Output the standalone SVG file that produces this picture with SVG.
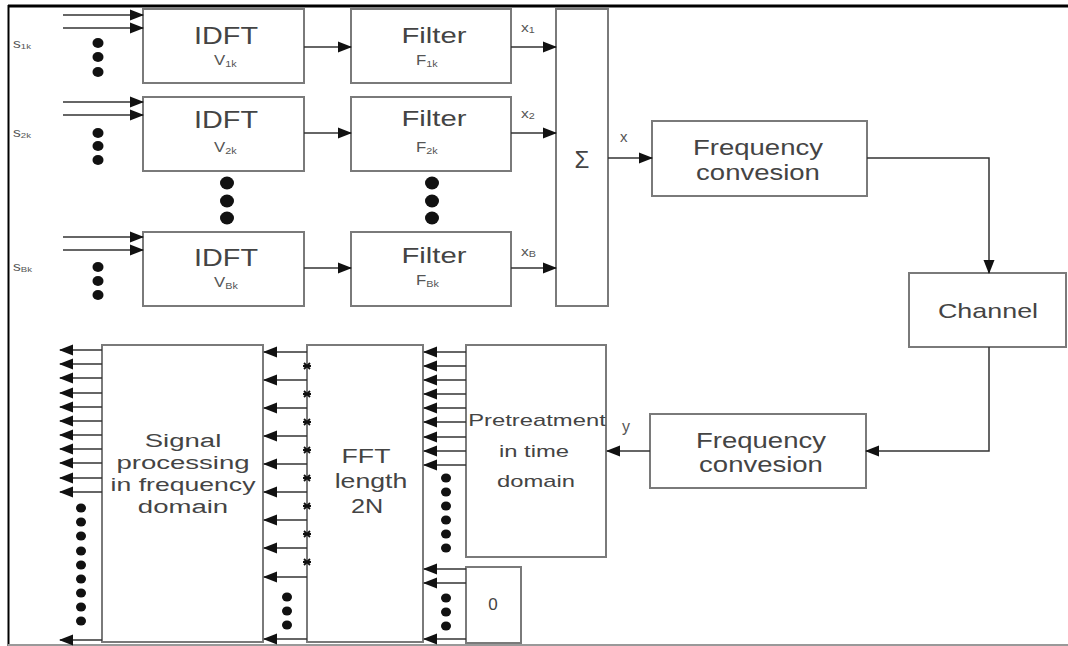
<svg xmlns="http://www.w3.org/2000/svg" width="1068" height="646" viewBox="0 0 1068 646">
<style>
.box{fill:#fff;stroke:#7a7a7a;stroke-width:2}
.ln{fill:none;stroke:#333;stroke-width:1.5}
.t{font-family:"Liberation Sans",Arial,sans-serif;fill:#444;text-anchor:middle}
.s{font-family:"Liberation Sans",Arial,sans-serif;fill:#555}
.dot{fill:#111}
</style>
<defs>
<marker id="ah" viewBox="0 0 14 11" markerUnits="userSpaceOnUse" markerWidth="14" markerHeight="11" refX="13" refY="5.5" orient="auto" overflow="visible">
<path d="M0,0 L14,5.5 L0,11 z" fill="#111"/>
</marker>
<g id="tick"><path d="M-3,-3 L3,3 M-3,3 L3,-3 M-4,0 L4,0" stroke="#111" stroke-width="1.8"/></g>
</defs>
<rect width="1068" height="646" fill="#fff"/>
<g id="frame">
<line x1="8" y1="6" x2="1068" y2="6" stroke="#000" stroke-width="3"/>
<line x1="8.5" y1="5" x2="8.5" y2="646" stroke="#000" stroke-width="2"/>
<line x1="8" y1="645" x2="1068" y2="645" stroke="#999" stroke-width="2"/>
</g>

<g id="idft1"><rect class="box" x="143" y="9" width="161" height="74"/>
<text class="t" font-size="24" transform="translate(226,44) scale(1.2,1)">IDFT</text>
<text class="s" font-size="14" transform="translate(214,65) scale(1.2,1)">V<tspan font-size="9" dy="2">1k</tspan></text></g>
<g id="idft2"><rect class="box" x="143" y="97" width="161" height="74"/>
<text class="t" font-size="24" transform="translate(226,128) scale(1.2,1)">IDFT</text>
<text class="s" font-size="14" transform="translate(214,152) scale(1.2,1)">V<tspan font-size="9" dy="2">2k</tspan></text></g>
<g id="idft3"><rect class="box" x="143" y="232" width="161" height="74"/>
<text class="t" font-size="24" transform="translate(226,266) scale(1.2,1)">IDFT</text>
<text class="s" font-size="14" transform="translate(214,287) scale(1.2,1)">V<tspan font-size="9" dy="2">Bk</tspan></text></g>

<g id="filter1"><rect class="box" x="351" y="9" width="160" height="74"/>
<text class="t" font-size="22" transform="translate(434,43) scale(1.33,1)">Filter</text>
<text class="s" font-size="14" transform="translate(416,65) scale(1.2,1)">F<tspan font-size="9" dy="2">1k</tspan></text></g>
<g id="filter2"><rect class="box" x="351" y="97" width="160" height="74"/>
<text class="t" font-size="22" transform="translate(434,126) scale(1.33,1)">Filter</text>
<text class="s" font-size="14" transform="translate(416,152) scale(1.2,1)">F<tspan font-size="9" dy="2">2k</tspan></text></g>
<g id="filter3"><rect class="box" x="351" y="232" width="160" height="74"/>
<text class="t" font-size="22" transform="translate(434,263) scale(1.33,1)">Filter</text>
<text class="s" font-size="14" transform="translate(416,285) scale(1.2,1)">F<tspan font-size="9" dy="2">Bk</tspan></text></g>

<g id="sum"><rect class="box" x="556" y="9" width="52" height="297"/>
<text class="t" font-size="24" x="582" y="168">Σ</text></g>

<g id="freq1"><rect class="box" x="652" y="121" width="215" height="75"/>
<text class="t" font-size="22" transform="translate(758,155) scale(1.25,1)">Frequency</text>
<text class="t" font-size="22" transform="translate(758,180) scale(1.25,1)">convesion</text></g>

<g id="channel"><rect class="box" x="909" y="273" width="157" height="74"/>
<text class="t" font-size="21" transform="translate(988,318) scale(1.28,1)">Channel</text></g>

<g id="freq2"><rect class="box" x="650" y="414" width="216" height="74"/>
<text class="t" font-size="22" transform="translate(761,448) scale(1.25,1)">Frequency</text>
<text class="t" font-size="22" transform="translate(761,472) scale(1.25,1)">convesion</text></g>

<g id="pretreat"><rect class="box" x="466" y="345" width="140" height="212"/>
<text class="t" font-size="17" transform="translate(537,426) scale(1.4,1)">Pretreatment</text>
<text class="t" font-size="17" transform="translate(534,457) scale(1.4,1)">in time</text>
<text class="t" font-size="17" transform="translate(536,487) scale(1.4,1)">domain</text></g>

<g id="zero"><rect class="box" x="466" y="567" width="55" height="76"/>
<text class="t" font-size="17" x="493" y="610">0</text></g>

<g id="fft"><rect class="box" x="307" y="345" width="116" height="297"/>
<text class="t" font-size="21" transform="translate(366,463) scale(1.27,1)">FFT</text>
<text class="t" font-size="21" transform="translate(371,488) scale(1.27,1)">length</text>
<text class="t" font-size="21" transform="translate(367,513) scale(1.2,1)">2N</text></g>

<g id="sigproc"><rect class="box" x="102" y="345" width="161" height="297"/>
<text class="t" font-size="19" transform="translate(183,447) scale(1.45,1)">Signal</text>
<text class="t" font-size="19" transform="translate(183,469) scale(1.45,1)">processing</text>
<text class="t" font-size="19" transform="translate(183,491) scale(1.4,1)">in frequency</text>
<text class="t" font-size="19" transform="translate(183,513) scale(1.45,1)">domain</text></g>

<g id="labels">
<text class="s" font-size="13" transform="translate(13,48) scale(1.2,1)">s<tspan font-size="8" dy="1">1k</tspan></text>
<text class="s" font-size="13" transform="translate(13,137) scale(1.2,1)">s<tspan font-size="8" dy="1">2k</tspan></text>
<text class="s" font-size="13" transform="translate(13,271) scale(1.2,1)">s<tspan font-size="8" dy="1">Bk</tspan></text>
<text class="s" font-size="13" transform="translate(521,32) scale(1.2,1)">x<tspan font-size="9" dy="1">1</tspan></text>
<text class="s" font-size="13" transform="translate(521,118) scale(1.2,1)">x<tspan font-size="9" dy="1">2</tspan></text>
<text class="s" font-size="13" transform="translate(521,256) scale(1.2,1)">x<tspan font-size="9" dy="1">B</tspan></text>
<text class="s" font-size="15" x="620" y="142">x</text>
<text class="s" font-size="16" x="622" y="432">y</text>
</g>

<g id="dots">
<ellipse class="dot" cx="98" cy="43" rx="5.5" ry="5"/><ellipse class="dot" cx="98" cy="57" rx="5.5" ry="5"/><ellipse class="dot" cx="98" cy="72" rx="5.5" ry="5"/>
<ellipse class="dot" cx="98" cy="133" rx="5.5" ry="5"/><ellipse class="dot" cx="98" cy="146" rx="5.5" ry="5"/><ellipse class="dot" cx="98" cy="160" rx="5.5" ry="5"/>
<ellipse class="dot" cx="98" cy="267" rx="5.5" ry="5"/><ellipse class="dot" cx="98" cy="281" rx="5.5" ry="5"/><ellipse class="dot" cx="98" cy="295" rx="5.5" ry="5"/>
<ellipse class="dot" cx="227" cy="183" rx="7" ry="6.5"/><ellipse class="dot" cx="227" cy="201" rx="7" ry="6.5"/><ellipse class="dot" cx="227" cy="218" rx="7" ry="6.5"/>
<ellipse class="dot" cx="432" cy="183" rx="7" ry="6.5"/><ellipse class="dot" cx="432" cy="201" rx="7" ry="6.5"/><ellipse class="dot" cx="432" cy="218" rx="7" ry="6.5"/>
<ellipse class="dot" cx="81" cy="508" rx="5" ry="4.5"/><ellipse class="dot" cx="81" cy="522" rx="5" ry="4.5"/><ellipse class="dot" cx="81" cy="536" rx="5" ry="4.5"/><ellipse class="dot" cx="81" cy="551" rx="5" ry="4.5"/><ellipse class="dot" cx="81" cy="565" rx="5" ry="4.5"/><ellipse class="dot" cx="81" cy="579" rx="5" ry="4.5"/><ellipse class="dot" cx="81" cy="593" rx="5" ry="4.5"/><ellipse class="dot" cx="81" cy="607" rx="5" ry="4.5"/><ellipse class="dot" cx="81" cy="621" rx="5" ry="4.5"/>
<ellipse class="dot" cx="287" cy="597" rx="5" ry="4.5"/><ellipse class="dot" cx="287" cy="611" rx="5" ry="4.5"/><ellipse class="dot" cx="287" cy="625" rx="5" ry="4.5"/>
<ellipse class="dot" cx="446" cy="478" rx="5" ry="4.5"/><ellipse class="dot" cx="446" cy="492" rx="5" ry="4.5"/><ellipse class="dot" cx="446" cy="506" rx="5" ry="4.5"/><ellipse class="dot" cx="446" cy="520" rx="5" ry="4.5"/><ellipse class="dot" cx="446" cy="534" rx="5" ry="4.5"/><ellipse class="dot" cx="446" cy="548" rx="5" ry="4.5"/>
<ellipse class="dot" cx="446" cy="598" rx="5" ry="4.5"/><ellipse class="dot" cx="446" cy="612" rx="5" ry="4.5"/><ellipse class="dot" cx="446" cy="626" rx="5" ry="4.5"/>
</g>

<g id="connectors" class="ln">
<line x1="63" y1="15" x2="143" y2="15" marker-end="url(#ah)"/><line x1="63" y1="28" x2="143" y2="28" marker-end="url(#ah)"/>
<line x1="63" y1="102" x2="143" y2="102" marker-end="url(#ah)"/><line x1="63" y1="115" x2="143" y2="115" marker-end="url(#ah)"/>
<line x1="63" y1="237" x2="143" y2="237" marker-end="url(#ah)"/><line x1="63" y1="250" x2="143" y2="250" marker-end="url(#ah)"/>
<line x1="304" y1="47" x2="351" y2="47" marker-end="url(#ah)"/><line x1="304" y1="133" x2="351" y2="133" marker-end="url(#ah)"/><line x1="304" y1="268" x2="351" y2="268" marker-end="url(#ah)"/>
<line x1="511" y1="47" x2="556" y2="47" marker-end="url(#ah)"/><line x1="511" y1="133" x2="556" y2="133" marker-end="url(#ah)"/><line x1="511" y1="268" x2="556" y2="268" marker-end="url(#ah)"/>
<line x1="608" y1="158" x2="652" y2="158" marker-end="url(#ah)"/>
<path d="M867,158 H989 V273" marker-end="url(#ah)"/>
<path d="M989,347 V451 H866" marker-end="url(#ah)"/>
<line x1="650" y1="451" x2="607" y2="451" marker-end="url(#ah)"/>
<line x1="466" y1="352" x2="424" y2="352" marker-end="url(#ah)"/><line x1="466" y1="366" x2="424" y2="366" marker-end="url(#ah)"/><line x1="466" y1="380" x2="424" y2="380" marker-end="url(#ah)"/><line x1="466" y1="394" x2="424" y2="394" marker-end="url(#ah)"/><line x1="466" y1="408" x2="424" y2="408" marker-end="url(#ah)"/><line x1="466" y1="422" x2="424" y2="422" marker-end="url(#ah)"/><line x1="466" y1="437" x2="424" y2="437" marker-end="url(#ah)"/><line x1="466" y1="451" x2="424" y2="451" marker-end="url(#ah)"/><line x1="466" y1="465" x2="424" y2="465" marker-end="url(#ah)"/>
<line x1="466" y1="569" x2="424" y2="569" marker-end="url(#ah)"/><line x1="466" y1="583" x2="424" y2="583" marker-end="url(#ah)"/><line x1="466" y1="639" x2="424" y2="639" marker-end="url(#ah)"/>
<line x1="307" y1="352" x2="264" y2="352" marker-end="url(#ah)"/><line x1="307" y1="380" x2="264" y2="380" marker-end="url(#ah)"/><line x1="307" y1="408" x2="264" y2="408" marker-end="url(#ah)"/><line x1="307" y1="436" x2="264" y2="436" marker-end="url(#ah)"/><line x1="307" y1="464" x2="264" y2="464" marker-end="url(#ah)"/><line x1="307" y1="492" x2="264" y2="492" marker-end="url(#ah)"/><line x1="307" y1="520" x2="264" y2="520" marker-end="url(#ah)"/><line x1="307" y1="548" x2="264" y2="548" marker-end="url(#ah)"/><line x1="307" y1="577" x2="264" y2="577" marker-end="url(#ah)"/><line x1="307" y1="639" x2="264" y2="639" marker-end="url(#ah)"/>
<line x1="102" y1="350" x2="60" y2="350" marker-end="url(#ah)"/><line x1="102" y1="364" x2="60" y2="364" marker-end="url(#ah)"/><line x1="102" y1="378" x2="60" y2="378" marker-end="url(#ah)"/><line x1="102" y1="393" x2="60" y2="393" marker-end="url(#ah)"/><line x1="102" y1="407" x2="60" y2="407" marker-end="url(#ah)"/><line x1="102" y1="421" x2="60" y2="421" marker-end="url(#ah)"/><line x1="102" y1="435" x2="60" y2="435" marker-end="url(#ah)"/><line x1="102" y1="449" x2="60" y2="449" marker-end="url(#ah)"/><line x1="102" y1="463" x2="60" y2="463" marker-end="url(#ah)"/><line x1="102" y1="478" x2="60" y2="478" marker-end="url(#ah)"/><line x1="102" y1="492" x2="60" y2="492" marker-end="url(#ah)"/><line x1="102" y1="640" x2="60" y2="640" marker-end="url(#ah)"/>
</g>
<g id="ticks">
<use href="#tick" x="307" y="366"/><use href="#tick" x="307" y="394"/><use href="#tick" x="307" y="422"/><use href="#tick" x="307" y="450"/><use href="#tick" x="307" y="478"/><use href="#tick" x="307" y="506"/><use href="#tick" x="307" y="534"/><use href="#tick" x="307" y="562"/>
</g>
</svg>
